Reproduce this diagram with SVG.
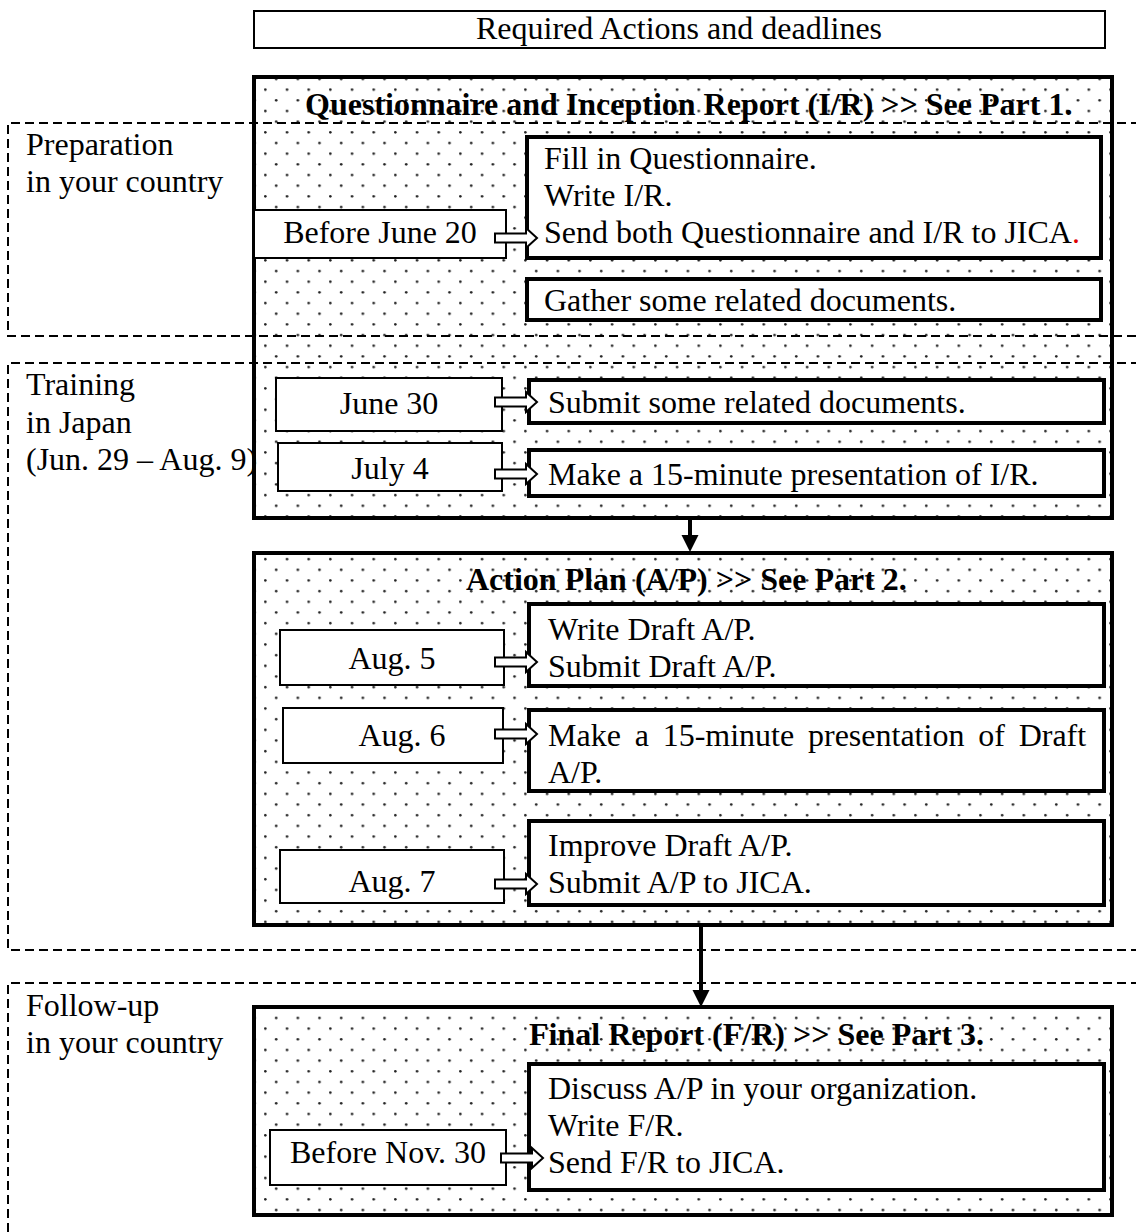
<svg xmlns="http://www.w3.org/2000/svg" xmlns:xlink="http://www.w3.org/1999/xlink" width="1136" height="1232" viewBox="0 0 1136 1232">
<style>
text{font-family:"Liberation Serif","Times New Roman",serif;font-size:32px;fill:#000}
.hdr{font-weight:bold}
.mid{text-anchor:middle}
.phase{fill:url(#dots);stroke:#000;stroke-width:4}
.act{fill:#fff;stroke:#000;stroke-width:4}
.date{fill:#fff;stroke:#000;stroke-width:2}
.region{fill:none;stroke:#000;stroke-width:2;stroke-dasharray:9 5}
.blk{fill:#fff;stroke:#000;stroke-width:2}
.down{stroke:#000;stroke-width:4;fill:none;marker-end:url(#head)}
</style>
<defs>
<pattern id="dots" patternUnits="userSpaceOnUse" x="4" y="3" width="21.67" height="21.34">
<circle cx="1.3" cy="1.3" r="1.3" fill="#222"/>
<circle cx="12.13" cy="11.97" r="1.3" fill="#222"/>
</pattern>
<path id="blockArrow" d="M-42,-4.5 H-11 V-10 L0,0 L-11,10 V4.5 H-42 Z"/>
<marker id="head" markerUnits="userSpaceOnUse" markerWidth="18" markerHeight="18" refX="0" refY="8.5" orient="auto" viewBox="0 0 18 17">
<path d="M0,0 L17,8.5 L0,17 Z" fill="#000"/>
</marker>
</defs>

<g id="title">
<rect x="254" y="11" width="851" height="37" fill="#fff" stroke="#000" stroke-width="2"/>
<text class="mid" x="679" y="39">Required Actions and deadlines</text>
</g>

<g id="phase1">
<rect class="phase" x="254" y="77" width="858" height="441"/>
<text class="hdr" x="305" y="115">Questionnaire and Inception Report (I/R) &gt;&gt; See Part 1.</text>
</g>
<g id="phase2">
<rect class="phase" x="254" y="553" width="858" height="372"/>
<text class="hdr" x="466" y="590">Action Plan (A/P) &gt;&gt; See Part 2.</text>
</g>
<g id="phase3">
<rect class="phase" x="254" y="1007" width="858" height="208"/>
<text class="hdr" x="529" y="1045">Final Report (F/R) &gt;&gt; See Part 3.</text>
</g>

<g id="region-preparation">
<path class="region" d="M1140,123 H8 V336 H1140"/>
<text x="26" y="155">Preparation</text>
<text x="26" y="192">in your country</text>
</g>
<g id="region-training">
<path class="region" d="M1140,363 H8 V950 H1140"/>
<text x="26" y="395">Training</text>
<text x="26" y="433">in Japan</text>
<text x="26" y="470">(Jun. 29 – Aug. 9)</text>
</g>
<g id="region-followup">
<path class="region" d="M1140,983 H8 V1240"/>
<text x="26" y="1016">Follow-up</text>
<text x="26" y="1053">in your country</text>
</g>

<g id="act-fill-in">
<rect class="act" x="527" y="137" width="574" height="121"/>
<text x="544" y="169">Fill in Questionnaire.</text>
<text x="544" y="206">Write I/R.</text>
<text x="544" y="243">Send both Questionnaire and I/R to JICA<tspan fill="#e00000">.</tspan></text>
</g>
<g id="act-gather">
<rect class="act" x="527" y="279" width="574" height="41"/>
<text x="544" y="311">Gather some related documents.</text>
</g>
<g id="act-submit-docs">
<rect class="act" x="529" y="380" width="575" height="43"/>
<text x="548" y="413">Submit some related documents.</text>
</g>
<g id="act-present-ir">
<rect class="act" x="529" y="450" width="575" height="46"/>
<text x="548" y="485">Make a 15-minute presentation of I/R.</text>
</g>
<g id="act-write-draft">
<rect class="act" x="529" y="604" width="575" height="82"/>
<text x="548" y="640">Write Draft A/P.</text>
<text x="548" y="677">Submit Draft A/P.</text>
</g>
<g id="act-present-draft">
<rect class="act" x="529" y="710" width="575" height="81"/>
<text x="548" y="746" word-spacing="5.8">Make a 15-minute presentation of Draft</text>
<text x="548" y="783">A/P.</text>
</g>
<g id="act-improve">
<rect class="act" x="529" y="821" width="575" height="84"/>
<text x="548" y="856">Improve Draft A/P.</text>
<text x="548" y="893">Submit A/P to JICA.</text>
</g>
<g id="act-final">
<rect class="act" x="529" y="1064" width="575" height="126"/>
<text x="548" y="1099">Discuss A/P in your organization.</text>
<text x="548" y="1136">Write F/R.</text>
<text x="548" y="1173">Send F/R to JICA.</text>
</g>

<g id="date-june20">
<rect class="date" x="254" y="210" width="252" height="48"/>
<text class="mid" x="380" y="243">Before June 20</text>
</g>
<g id="date-june30">
<rect class="date" x="276" y="378" width="226" height="53"/>
<text class="mid" x="389" y="414">June 30</text>
</g>
<g id="date-july4">
<rect class="date" x="278" y="443" width="224" height="48"/>
<text class="mid" x="390" y="479">July 4</text>
</g>
<g id="date-aug5">
<rect class="date" x="280" y="630" width="224" height="55"/>
<text class="mid" x="392" y="669">Aug. 5</text>
</g>
<g id="date-aug6">
<rect class="date" x="283" y="708" width="220" height="55"/>
<text class="mid" x="402" y="746">Aug. 6</text>
</g>
<g id="date-aug7">
<rect class="date" x="280" y="850" width="224" height="53"/>
<text class="mid" x="392" y="892">Aug. 7</text>
</g>
<g id="date-nov30">
<rect class="date" x="270" y="1130" width="236" height="55"/>
<text class="mid" x="388" y="1163">Before Nov. 30</text>
</g>

<g id="connectors">
<use xlink:href="#blockArrow" class="blk" x="537" y="238"/>
<use xlink:href="#blockArrow" class="blk" x="537" y="402"/>
<use xlink:href="#blockArrow" class="blk" x="537" y="474"/>
<use xlink:href="#blockArrow" class="blk" x="537" y="662"/>
<use xlink:href="#blockArrow" class="blk" x="537" y="734"/>
<use xlink:href="#blockArrow" class="blk" x="537" y="884"/>
<use xlink:href="#blockArrow" class="blk" x="543" y="1158"/>
<path class="down" d="M690,520 V535"/>
<path class="down" d="M701,927 V990"/>
</g>
</svg>
